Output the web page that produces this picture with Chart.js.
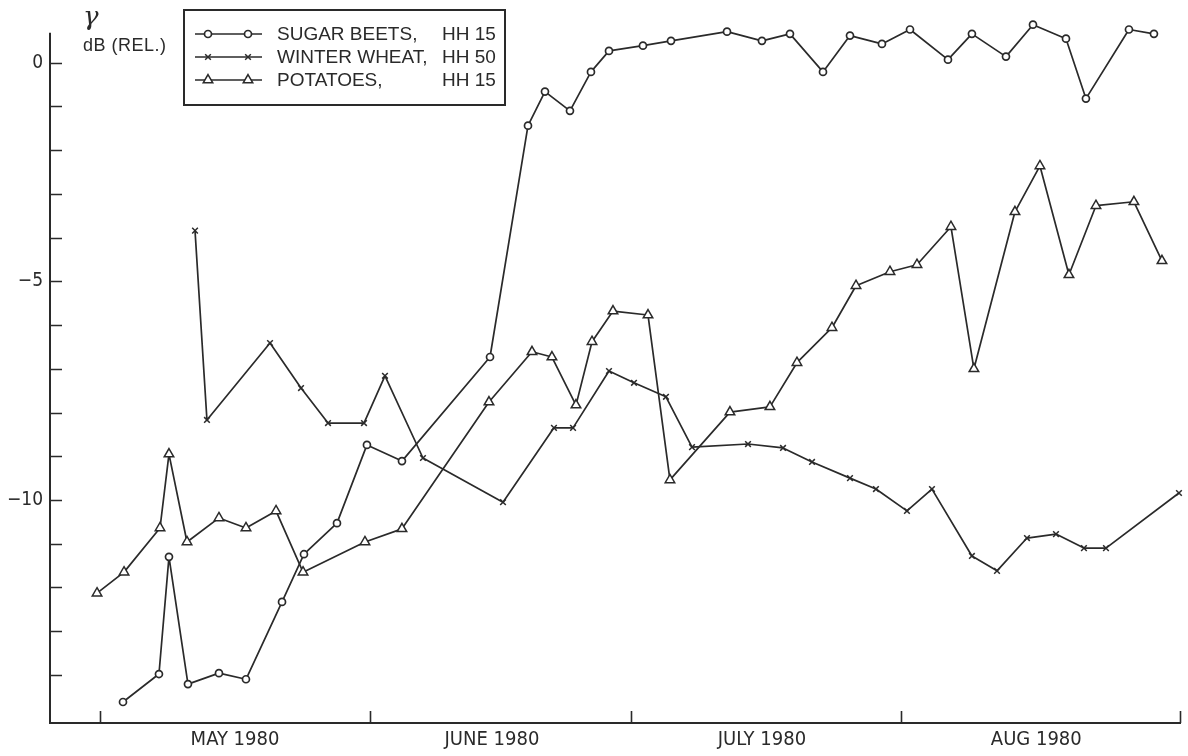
<!DOCTYPE html>
<html>
<head>
<meta charset="utf-8">
<script src="https://cdn.jsdelivr.net/npm/chart.js@4.4.1/dist/chart.umd.min.js"></script>
<style>
  html, body { margin: 0; padding: 0; background: #ffffff; }
  #wrap { width: 1188px; height: 756px; }
</style>
</head>
<body>
<div id="wrap"><canvas id="c" width="1188" height="756"></canvas></div>
<script>
// Relative backscatter (dB) of three crops through the 1980 season.
// Time is counted in days from 1 May 1980.

const seriesNames = ['SUGAR BEETS,', 'WINTER WHEAT,', 'POTATOES,'];
const seriesBands = ['HH 15', 'HH 50', 'HH 15'];

const beetDays = [2.64, 6.77, 7.92, 10.10, 13.66, 16.76, 20.90, 23.42, 27.21, 30.65, 34.67,
  44.78, 49.14, 51.09, 53.96, 56.37, 58.44, 62.34, 65.56, 71.99, 76.00, 79.22, 83.01,
  86.11, 89.78, 93.00, 97.36, 100.11, 104.02, 107.12, 110.91, 113.20, 118.14, 121.01];
const beetDb = [-14.62, -13.98, -11.30, -14.21, -13.96, -14.10, -12.33, -11.24, -10.53, -8.74, -9.11,
  -6.73, -1.44, -0.66, -1.10, -0.21, 0.27, 0.39, 0.50, 0.71, 0.50, 0.66, -0.21,
  0.62, 0.43, 0.76, 0.07, 0.66, 0.14, 0.87, 0.55, -0.82, 0.76, 0.66];

const wheatDays = [10.91, 12.28, 19.52, 23.08, 26.18, 30.31, 32.72, 37.08, 46.27, 52.12, 54.31,
  58.44, 61.31, 64.98, 67.97, 74.40, 78.42, 81.75, 86.11, 89.09, 92.65, 95.52, 100.11,
  102.99, 106.43, 109.76, 112.97, 115.50, 123.88];
const wheatDb = [-3.84, -8.17, -6.41, -7.44, -8.24, -8.24, -7.16, -9.04, -10.05, -8.35, -8.35,
  -7.05, -7.32, -7.64, -8.79, -8.72, -8.81, -9.13, -9.50, -9.75, -10.25, -9.75, -11.28,
  -11.62, -10.87, -10.78, -11.10, -11.10, -9.84];

const potatoDays = [-0.34, 2.76, 6.89, 7.92, 9.99, 13.66, 16.76, 20.21, 23.31, 30.42, 34.67,
  44.66, 49.60, 51.89, 54.65, 56.49, 58.90, 62.92, 65.44, 72.33, 76.92, 80.02, 84.04,
  86.80, 90.70, 93.80, 97.70, 100.34, 105.05, 107.92, 111.25, 114.35, 118.71, 121.93];
const potatoDb = [-12.13, -11.65, -10.64, -8.95, -10.96, -10.41, -10.64, -10.25, -11.65, -10.96, -10.66,
  -7.76, -6.61, -6.73, -7.83, -6.38, -5.68, -5.77, -9.54, -7.99, -7.87, -6.86, -6.06,
  -5.10, -4.78, -4.62, -3.75, -7.00, -3.41, -2.36, -4.85, -3.27, -3.18, -4.53];

// Axis ticks
const monthStarts = [0, 31, 61, 92, 124];
const monthMids = [15.5, 45, 76, 107.5];
const monthLabels = ['MAY 1980', 'JUNE 1980', 'JULY 1980', 'AUG 1980'];
const dbTicks = [-14, -13, -12, -11, -10, -9, -8, -7, -6, -5, -4, -3, -2, -1, 0];
const dbLabelled = [0, -5, -10];
const dbAxisTop = 0.686;   // where the drawn y-axis line stops

const INK = '#2a2a2a';
const NARROW = "'Liberation Sans Narrow', 'DejaVu Sans Condensed', 'Liberation Sans', sans-serif";
const PLAIN = "'Liberation Sans', Arial, sans-serif";

const pairs = (xs, ys) => xs.map((x, i) => ({ x: x, y: ys[i] }));

const markerStyles = [
  { pointStyle: 'circle', pointRadius: 3.5, pointBorderWidth: 1.7 },
  { pointStyle: 'crossRot', pointRadius: 4, pointBorderWidth: 1.5 },
  { pointStyle: 'triangle', pointRadius: 5.5, pointBorderWidth: 1.5 }
];

const datasets = [
  pairs(beetDays, beetDb),
  pairs(wheatDays, wheatDb),
  pairs(potatoDays, potatoDb)
].map((data, i) => Object.assign({
  label: seriesNames[i] + ' ' + seriesBands[i],
  data: data,
  borderColor: INK,
  borderWidth: 1.7,
  pointBackgroundColor: '#ffffff',
  pointBorderColor: INK,
  tension: 0,
  clip: false
}, markerStyles[i]));

// Y-axis line, short ticks that point into the plot, the y-axis caption and the boxed key.
const decorations = {
  id: 'decorations',
  afterDatasetsDraw(chart) {
    const ctx = chart.ctx;
    const xs = chart.scales.x, ys = chart.scales.y;
    const area = chart.chartArea;
    ctx.save();
    ctx.strokeStyle = INK;

    ctx.lineWidth = 2;
    ctx.beginPath();
    ctx.moveTo(area.left, ys.getPixelForValue(dbAxisTop));
    ctx.lineTo(area.left, area.bottom);
    ctx.stroke();

    ctx.lineWidth = 1.6;
    ctx.beginPath();
    dbTicks.forEach(v => {
      const py = Math.round(ys.getPixelForValue(v)) + 0.5;
      ctx.moveTo(area.left, py);
      ctx.lineTo(area.left + 12, py);
    });
    monthStarts.forEach(d => {
      const px = Math.round(xs.getPixelForValue(d)) + 0.5;
      ctx.moveTo(px, area.bottom);
      ctx.lineTo(px, area.bottom - 12);
    });
    ctx.stroke();

    // axis caption
    ctx.fillStyle = INK;
    ctx.textBaseline = 'middle';
    ctx.textAlign = 'left';
    ctx.font = "italic 26px 'DejaVu Serif', 'Liberation Serif', serif";
    ctx.fillText('\u03B3', 83, 18);
    ctx.font = '18px ' + PLAIN;
    ctx.letterSpacing = '0.5px';
    ctx.fillText('dB (REL.)', 83, 46);

    // key box
    const bx = 184, by = 10, bw = 321, bh = 95;
    ctx.lineWidth = 2;
    ctx.strokeRect(bx, by, bw, bh);
    const rows = [34, 57, 80];
    ctx.font = '19px ' + PLAIN;
    ctx.letterSpacing = '0px';
    chart.data.datasets.forEach((ds, i) => {
      const ry = rows[i];
      ctx.lineWidth = 1.7;
      ctx.strokeStyle = INK;
      ctx.beginPath();
      ctx.moveTo(195, ry);
      ctx.lineTo(262, ry);
      ctx.stroke();
      [208, 248].forEach(mx => {
        ctx.fillStyle = '#ffffff';
        ctx.strokeStyle = INK;
        ctx.lineWidth = ds.pointBorderWidth;
        Chart.helpers.drawPoint(ctx, {
          pointStyle: ds.pointStyle,
          radius: ds.pointRadius,
          borderWidth: ds.pointBorderWidth,
          rotation: 0
        }, mx, ry);
      });
      ctx.fillStyle = INK;
      ctx.fillText(seriesNames[i], 277, ry + 1);
      ctx.fillText(seriesBands[i], 442, ry + 1);
    });
    ctx.restore();
  }
};

new Chart(document.getElementById('c'), {
  type: 'line',
  data: { datasets: datasets },
  options: {
    responsive: false,
    devicePixelRatio: 1,
    animation: false,
    layout: { padding: { top: 19, right: 8, left: 0, bottom: 0 } },
    plugins: { legend: { display: false }, tooltip: { enabled: false } },
    elements: { line: { borderJoinStyle: 'round' } },
    scales: {
      x: {
        type: 'linear',
        min: -5.74,
        max: 124,
        afterBuildTicks(scale) { scale.ticks = monthMids.map(v => ({ value: v })); },
        afterFit(scale) { scale.height = 33; },
        grid: { display: false, drawTicks: false },
        border: { display: true, color: INK, width: 2 },
        ticks: {
          padding: 5,
          color: INK,
          font: { family: NARROW, size: 20 },
          maxRotation: 0,
          autoSkip: false,
          callback: (v, i) => monthLabels[i]
        }
      },
      y: {
        type: 'linear',
        min: -15.1,
        max: 1.0,
        afterBuildTicks(scale) { scale.ticks = dbTicks.map(v => ({ value: v })); },
        afterFit(scale) { scale.width = 50; },
        grid: { display: false, drawTicks: false },
        border: { display: false },
        ticks: {
          padding: 7,
          color: INK,
          font: { family: NARROW, size: 19 },
          autoSkip: false,
          callback: v => dbLabelled.includes(v) ? (v < 0 ? '\u2212' + Math.abs(v) : '0') : ''
        }
      }
    }
  },
  plugins: [decorations]
});
</script>
</body>
</html>
